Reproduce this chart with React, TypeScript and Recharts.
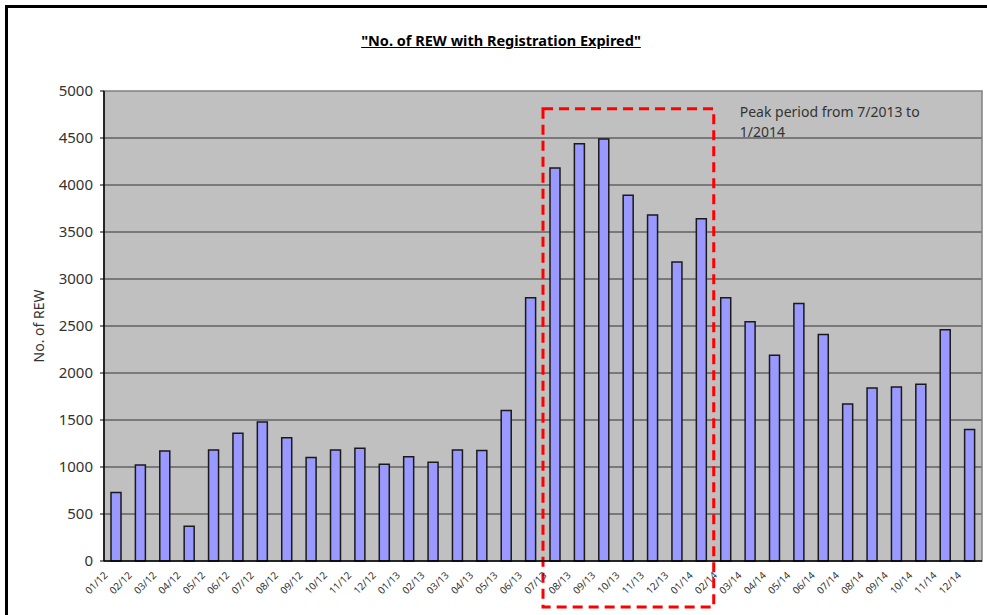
import { BarChart, Bar, XAxis, YAxis, CartesianGrid, ReferenceArea, Label } from 'recharts'

const months = [
  '01/12', '02/12', '03/12', '04/12', '05/12', '06/12', '07/12', '08/12', '09/12', '10/12', '11/12', '12/12',
  '01/13', '02/13', '03/13', '04/13', '05/13', '06/13', '07/13', '08/13', '09/13', '10/13', '11/13', '12/13',
  '01/14', '02/14', '03/14', '04/14', '05/14', '06/14', '07/14', '08/14', '09/14', '10/14', '11/14', '12/14',
]

const expired = [
  730, 1020, 1170, 370, 1180, 1360, 1480, 1310, 1100, 1180, 1200, 1030,
  1110, 1050, 1180, 1175, 1600, 2800, 4180, 4440, 4490, 3890, 3680, 3180,
  3640, 2800, 2545, 2190, 2740, 2410, 1670, 1840, 1850, 1880, 2460, 1400,
]

const yTicks = [0, 500, 1000, 1500, 2000, 2500, 3000, 3500, 4000, 4500, 5000]

// peak window highlighted with the red dashed box
const peakStart = '07/13'
const peakEnd = '01/14'
const peakLow = -490
const peakHigh = 4810

const data = months.map((m, i) => ({ month: m, value: expired[i] }))

const font = '"Noto Sans", "DejaVu Sans", sans-serif'

function MonthTick({ x, y, payload }: any) {
  return (
    <g transform={`translate(${x - 8},${y + 15})`}>
      <text transform="rotate(-45)" textAnchor="end" fontSize={10} fill="#333" fontFamily={font}>
        {payload.value}
      </text>
    </g>
  )
}

function YLabel({ viewBox }: any) {
  const cx = viewBox.x + 40
  const cy = viewBox.y + viewBox.height / 2
  return (
    <text x={cx} y={cy} transform={`rotate(-90, ${cx}, ${cy})`} textAnchor="middle" dominantBaseline="middle"
          fontSize={14} fill="#333" fontFamily={font}>
      No. of REW
    </text>
  )
}

function PeakNote({ viewBox }: any) {
  const tx = viewBox.x + viewBox.width + 26
  const ty = viewBox.y + 8
  return (
    <text x={tx} y={ty} fontSize={14} fill="#333" fontFamily={font}>
      <tspan x={tx} dy={0}>Peak period from 7/2013 to</tspan>
      <tspan x={tx} dy={20}>1/2014</tspan>
    </text>
  )
}

export default function App() {
  return (
    <div style={{ position: 'absolute', left: 0, top: 0, width: 987, height: 615, background: '#fff', overflow: 'hidden' }}>
      <div style={{ position: 'absolute', left: 5, top: 5, width: 980, height: 620,
                    borderTop: '3px solid #000', borderLeft: '3px solid #000' }} />
      <div style={{ position: 'absolute', left: 0, top: 30, width: 1002, textAlign: 'center',
                    fontFamily: font, fontWeight: 'bold', fontSize: 14.5, textDecoration: 'underline', color: '#000' }}>
        "No. of REW with Registration Expired"
      </div>
      <div style={{ position: 'absolute', left: 0, top: 0 }}>
        <BarChart width={987} height={615} data={data} margin={{ top: 91, right: 5, left: 0, bottom: 0 }}>
          <CartesianGrid vertical={false} fill="#C0C0C0" stroke="#333" strokeOpacity={1}
                         horizontalValues={yTicks.slice(1, -1)} />
          <XAxis dataKey="month" height={54} interval={0} tickLine={false} tickSize={0} tickMargin={0}
                 axisLine={{ stroke: '#000', strokeWidth: 1.5 }} tick={<MonthTick />} />
          <YAxis width={104} domain={[0, 5000]} ticks={yTicks} interval={0}
                 tick={{ fill: '#333', fontSize: 15, fontFamily: font }} tickMargin={7}
                 tickLine={{ stroke: '#000' }} tickSize={4} axisLine={{ stroke: '#000', strokeWidth: 1.5 }}>
            <Label content={<YLabel />} />
          </YAxis>
          <ReferenceArea y1={0} y2={5000} fill="none" stroke="#808080" strokeWidth={1.5} ifOverflow="visible" />
          <Bar dataKey="value" fill="#9999FF" stroke="#1a1a1a" strokeWidth={1.5} barSize={10}
               isAnimationActive={false} />
          <ReferenceArea x1={peakStart} x2={peakEnd} y1={peakLow} y2={peakHigh} ifOverflow="visible"
                         fill="none" stroke="#FF0000" strokeWidth={3} strokeDasharray="10 6"
                         label={<PeakNote />} />
        </BarChart>
      </div>
    </div>
  )
}
